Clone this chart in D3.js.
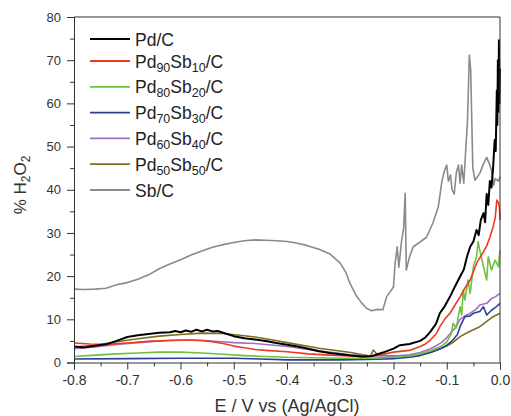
<!DOCTYPE html>
<html><head><meta charset="utf-8">
<script src="https://cdn.jsdelivr.net/npm/d3@7"></script>
<style>body{margin:0;background:#fff}svg{display:block}</style>
</head><body><svg id="c" width="511" height="416"></svg>
<script>
// ---- data ----
const seriesNames = ["Pd/C", "Pd90Sb10/C", "Pd80Sb20/C", "Pd70Sb30/C", "Pd60Sb40/C", "Pd50Sb50/C", "Sb/C"];
const xTicks = [-0.8, -0.7, -0.6, -0.5, -0.4, -0.3, -0.2, -0.1, 0.0];
const xTickLabels = ["-0.8", "-0.7", "-0.6", "-0.5", "-0.4", "-0.3", "-0.2", "-0.1", "0.0"];
const yTicks = [0, 10, 20, 30, 40, 50, 60, 70, 80];

const pdC = [[-0.8,3.7],[-0.78,3.5],[-0.76,3.9],[-0.74,4.2],[-0.72,5.0],[-0.7,5.9],[-0.68,6.3],[-0.66,6.6],[-0.64,6.9],[-0.62,7.0],[-0.61,7.3],[-0.6,7.0],[-0.59,7.4],[-0.58,7.1],[-0.57,7.6],[-0.56,7.2],[-0.55,7.6],[-0.54,7.2],[-0.53,7.3],[-0.52,6.9],[-0.5,6.1],[-0.48,5.6],[-0.46,5.3],[-0.44,5.0],[-0.42,4.5],[-0.4,4.1],[-0.38,3.7],[-0.36,3.2],[-0.34,2.6],[-0.32,2.2],[-0.3,1.9],[-0.28,1.6],[-0.26,1.4],[-0.24,1.5],[-0.22,2.3],[-0.2,3.2],[-0.188,4.0],[-0.17,4.3],[-0.15,5.0],[-0.14,5.8],[-0.131,7.1],[-0.12,9.0],[-0.113,11.4],[-0.104,13.0],[-0.094,15.2],[-0.085,17.5],[-0.075,19.9],[-0.068,21.5],[-0.062,24.5],[-0.056,26.8],[-0.05,28.0],[-0.044,30.7],[-0.04,29.5],[-0.036,33.0],[-0.031,34.6],[-0.028,32.5],[-0.025,39.0],[-0.022,36.5],[-0.019,42.0],[-0.016,40.5],[-0.013,45.0],[-0.01,51.5],[-0.008,49.0],[-0.006,63.0],[-0.005,55.0],[-0.004,70.0],[-0.003,58.0],[-0.002,74.6],[-0.001,60.0],[0,68.0]];
const pd90 = [[-0.8,4.5],[-0.77,4.3],[-0.74,4.2],[-0.7,4.5],[-0.66,4.9],[-0.62,5.1],[-0.58,5.2],[-0.55,5.0],[-0.52,4.4],[-0.5,3.8],[-0.48,3.4],[-0.46,3.0],[-0.44,2.8],[-0.4,2.5],[-0.36,2.0],[-0.32,1.7],[-0.28,1.5],[-0.25,1.3],[-0.22,1.9],[-0.2,2.4],[-0.17,2.8],[-0.15,3.7],[-0.14,4.3],[-0.131,5.2],[-0.12,6.6],[-0.113,8.3],[-0.104,10.0],[-0.094,11.4],[-0.085,13.2],[-0.075,15.2],[-0.066,17.2],[-0.056,19.1],[-0.044,23.0],[-0.031,25.6],[-0.025,27.0],[-0.019,29.0],[-0.013,31.4],[-0.009,33.5],[-0.006,37.6],[-0.003,37.0],[-0.001,36.0],[0,33.0]];
const pd80 = [[-0.8,1.4],[-0.76,1.7],[-0.72,2.0],[-0.68,2.2],[-0.64,2.4],[-0.6,2.4],[-0.56,2.2],[-0.52,1.9],[-0.48,1.6],[-0.44,1.4],[-0.4,1.2],[-0.35,1.1],[-0.3,1.0],[-0.25,1.0],[-0.2,1.2],[-0.17,1.5],[-0.15,2.0],[-0.13,2.7],[-0.11,3.8],[-0.1,4.8],[-0.092,6.5],[-0.088,9.1],[-0.082,8.0],[-0.075,12.9],[-0.072,11.0],[-0.069,16.8],[-0.066,14.5],[-0.06,19.1],[-0.056,16.0],[-0.05,22.2],[-0.044,24.5],[-0.041,28.0],[-0.038,26.0],[-0.031,22.2],[-0.025,19.1],[-0.022,24.5],[-0.016,21.4],[-0.009,23.7],[-0.003,22.2],[0,26.0]];
const pd70 = [[-0.8,0.8],[-0.7,0.9],[-0.6,1.0],[-0.5,1.0],[-0.45,0.8],[-0.4,0.6],[-0.3,0.6],[-0.25,0.7],[-0.2,0.9],[-0.17,1.2],[-0.15,1.6],[-0.13,2.3],[-0.11,3.3],[-0.1,4.0],[-0.09,5.0],[-0.08,6.5],[-0.075,8.3],[-0.066,10.6],[-0.056,10.8],[-0.05,11.4],[-0.038,11.8],[-0.031,12.9],[-0.025,11.0],[-0.016,12.1],[-0.008,12.8],[0,13.7]];
const pd60 = [[-0.8,3.2],[-0.76,3.6],[-0.72,4.2],[-0.68,4.6],[-0.64,5.0],[-0.6,5.2],[-0.56,5.1],[-0.52,4.8],[-0.5,4.6],[-0.46,4.4],[-0.4,3.7],[-0.34,2.7],[-0.28,1.8],[-0.24,1.5],[-0.2,1.5],[-0.17,1.8],[-0.15,2.3],[-0.13,3.2],[-0.11,4.6],[-0.1,5.8],[-0.09,7.2],[-0.082,8.3],[-0.075,10.0],[-0.066,10.8],[-0.056,11.4],[-0.045,12.3],[-0.038,13.3],[-0.025,13.7],[-0.016,14.8],[-0.009,15.2],[0,16.0]];
const pd50 = [[-0.8,3.6],[-0.76,4.0],[-0.72,4.8],[-0.68,5.5],[-0.64,6.1],[-0.6,6.5],[-0.56,6.8],[-0.52,6.7],[-0.48,6.2],[-0.46,5.9],[-0.44,5.5],[-0.4,4.6],[-0.34,3.3],[-0.28,2.3],[-0.25,1.6],[-0.244,1.3],[-0.238,2.9],[-0.23,1.8],[-0.2,1.5],[-0.17,1.6],[-0.15,1.9],[-0.13,2.4],[-0.11,3.3],[-0.1,3.8],[-0.09,4.5],[-0.075,6.0],[-0.06,7.0],[-0.038,8.3],[-0.013,10.6],[0,11.4]];
const sbC = [[-0.8,17.0],[-0.78,16.9],[-0.76,17.0],[-0.74,17.2],[-0.72,18.0],[-0.7,18.5],[-0.68,19.3],[-0.66,20.3],[-0.64,21.7],[-0.62,22.8],[-0.6,23.8],[-0.58,24.9],[-0.56,25.8],[-0.54,26.7],[-0.52,27.3],[-0.5,27.8],[-0.48,28.2],[-0.46,28.4],[-0.44,28.3],[-0.42,28.2],[-0.4,28.0],[-0.38,27.6],[-0.36,27.0],[-0.34,26.2],[-0.32,25.2],[-0.3,23.0],[-0.29,21.0],[-0.282,18.4],[-0.27,15.5],[-0.26,13.8],[-0.25,12.5],[-0.241,12.0],[-0.23,12.3],[-0.22,12.2],[-0.213,15.2],[-0.2,17.5],[-0.197,23.0],[-0.193,26.8],[-0.19,22.0],[-0.185,28.0],[-0.181,31.0],[-0.178,39.2],[-0.176,21.4],[-0.17,24.4],[-0.163,26.8],[-0.15,27.9],[-0.138,29.0],[-0.126,32.3],[-0.116,36.0],[-0.109,42.0],[-0.104,44.5],[-0.1,45.7],[-0.097,42.0],[-0.093,43.4],[-0.09,40.0],[-0.086,39.0],[-0.082,44.0],[-0.078,45.7],[-0.075,41.5],[-0.072,45.7],[-0.068,41.5],[-0.064,50.0],[-0.061,56.0],[-0.0576,71.2],[-0.055,67.7],[-0.053,56.0],[-0.051,45.0],[-0.047,42.2],[-0.038,43.8],[-0.031,46.0],[-0.025,47.5],[-0.02,46.0],[-0.016,44.5],[-0.012,41.0],[-0.009,42.6],[-0.003,42.0],[0,43.0]];

const seriesData = [pdC, pd90, pd80, pd70, pd60, pd50, sbC];
const seriesColors = ["#000000", "#ee3a20", "#6cc23e", "#2a3f96", "#a06fc6", "#7d6d1f", "#8a8a8a"];

// ---- chart ----
const svg = d3.select("#c");
const font = "'Liberation Sans', Arial, Helvetica, sans-serif";
const x = d3.scaleLinear().domain([-0.8, 0]).range([74, 500]);
const y = d3.scaleLinear().domain([0, 80]).range([362.5, 17]);

svg.append("rect").attr("width", 511).attr("height", 416).attr("fill", "#fff");

// curves (draw Sb/C first so Pd curves are on top)
const line = d3.line().x(d => x(d[0])).y(d => y(d[1]));
const order = [6, 5, 4, 3, 2, 1, 0];
order.forEach(i => {
  svg.append("path").datum(seriesData[i])
    .attr("fill", "none")
    .attr("stroke", seriesColors[i])
    .attr("stroke-width", i === 0 ? 2 : 1.6)
    .attr("stroke-linejoin", "round")
    .attr("d", line);
});

// frame
svg.append("line").attr("x1", 74).attr("x2", 500).attr("y1", 17).attr("y2", 17).attr("stroke", "#333").attr("stroke-width", 1);
svg.append("line").attr("x1", 500).attr("x2", 500).attr("y1", 17).attr("y2", 362.5).attr("stroke", "#333").attr("stroke-width", 1);

// axes
const yMinor = d3.range(5, 80, 10);
const xMinor = d3.range(-0.75, 0, 0.1);
const gy = svg.append("g").attr("transform", "translate(74,0)")
  .call(d3.axisLeft(y).tickValues(yTicks).tickSize(7).tickPadding(6).tickFormat(d3.format("d")));
svg.append("g").attr("transform", "translate(74,0)")
  .call(d3.axisLeft(y).tickValues(yMinor).tickSize(4).tickFormat(""))
  .select(".domain").remove();
const gx = svg.append("g").attr("transform", "translate(0,362.5)")
  .call(d3.axisBottom(x).tickValues(xTicks).tickSize(7).tickPadding(6).tickFormat((d, i) => xTickLabels[i]));
svg.append("g").attr("transform", "translate(0,362.5)")
  .call(d3.axisBottom(x).tickValues(xMinor).tickSize(4).tickFormat(""))
  .select(".domain").remove();
svg.selectAll(".domain, .tick line").attr("stroke", "#333");
gy.selectAll("text").attr("font-family", font).attr("font-size", 13).attr("fill", "#333");
gx.selectAll("text").attr("font-family", font).attr("font-size", 14).attr("fill", "#333");

// axis titles
svg.append("text").attr("x", 287).attr("y", 412).attr("text-anchor", "middle")
  .attr("font-family", font).attr("font-size", 18).attr("fill", "#333")
  .text("E / V vs (Ag/AgCl)");
const yt = svg.append("text").attr("transform", "translate(26,185) rotate(-90)")
  .attr("text-anchor", "middle").attr("font-family", font).attr("font-size", 17).attr("fill", "#333");
yt.append("tspan").text("% H");
yt.append("tspan").attr("dy", 4).attr("font-size", 12).text("2");
yt.append("tspan").attr("dy", -4).text("O");
yt.append("tspan").attr("dy", 4).attr("font-size", 12).text("2");

// legend
const legendParts = seriesNames.map(n => {
  const m = n.match(/^Pd(\d+)Sb(\d+)\/C$/);
  return m ? [["Pd", false], [m[1], true], ["Sb", false], [m[2], true], ["/C", false]] : [[n, false]];
});
seriesNames.forEach((n, i) => {
  const ly = i === 0 ? 39 : 61 + (i - 1) * 25.8;
  svg.append("line").attr("x1", 90).attr("x2", 130).attr("y1", ly).attr("y2", ly)
    .attr("stroke", seriesColors[i]).attr("stroke-width", 1.8);
  const t = svg.append("text").attr("x", 135).attr("y", ly + 6.5)
    .attr("font-family", font).attr("font-size", 17.5).attr("fill", "#222");
  let sub = false;
  legendParts[i].forEach(([s, isSub]) => {
    const ts = t.append("tspan").text(s);
    if (isSub && !sub) { ts.attr("dy", 4).attr("font-size", 12.5); sub = true; }
    else if (isSub) { ts.attr("font-size", 12.5); }
    else if (!isSub && sub) { ts.attr("dy", -4); sub = false; }
  });
});
</script></body></html>
